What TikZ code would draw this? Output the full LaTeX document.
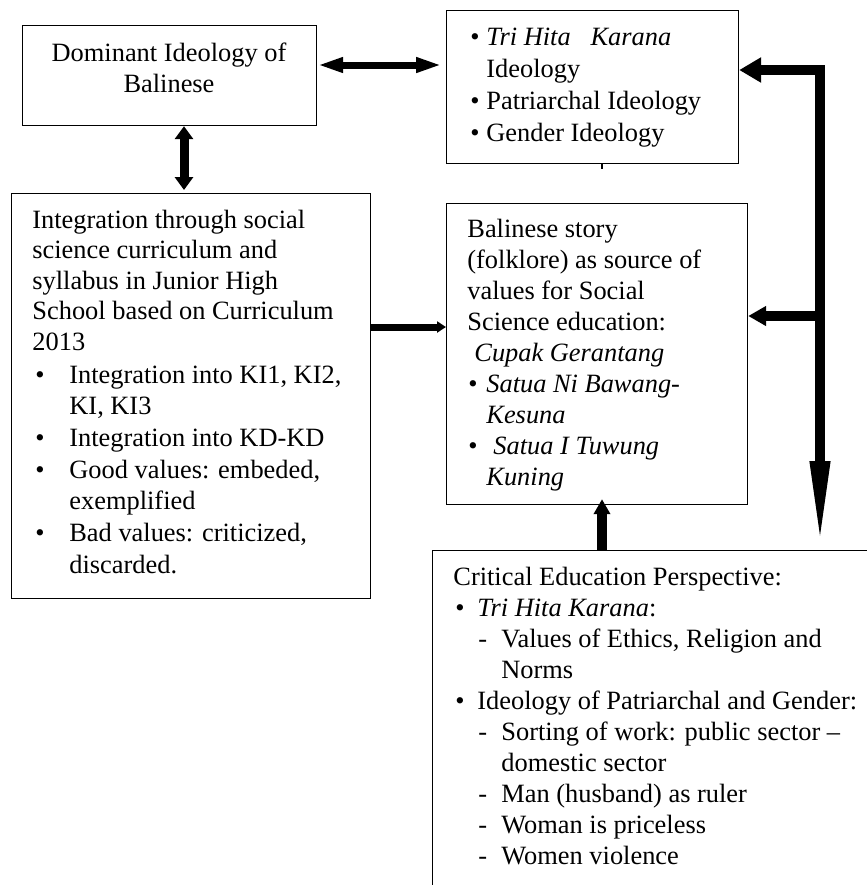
\documentclass[tikz,border=0pt]{standalone}
\usepackage{fontspec}
\setmainfont{Liberation Serif}
\usetikzlibrary{arrows.meta}

% hanging label of fixed width (bullet or dash) before an item text
\newcommand\lbl[2]{\makebox[#1][l]{#2}}

\begin{document}
\begin{tikzpicture}[x=0.5pt,y=-0.5pt,
  box/.style={draw,line width=0.6pt,inner sep=0,anchor=north west},
  txt/.style={inner sep=0,anchor=base west},
  link/.style={line width=#1,line join=miter},
]
\useasboundingbox (0,0) rectangle (867,885);
\clip (0,0) rectangle (867,885);

% boxes
\node[box,minimum width=147pt,minimum height=50pt]   (b1) at (22,25)   {};
\node[box,minimum width=146pt,minimum height=76.5pt] (b2) at (446,10)  {};
\node[box,minimum width=179.5pt,minimum height=202.5pt] (b3) at (11,193) {};
\node[box,minimum width=150.5pt,minimum height=150.5pt] (b4) at (446,203) {};
\node[box,minimum width=230pt,minimum height=180pt]  (b5) at (432,550) {};

% texts
\node[inner sep=0,anchor=base,font=\fontsize{13.2}{15.5}\selectfont] (t1) at (169,61)
  {\begin{tabular}[t]{@{}c@{}}Dominant Ideology of\\Balinese\end{tabular}};

\node[txt,font=\fontsize{13.2}{16}\selectfont] (t2) at (470,45)
  {\begin{tabular}[t]{@{}l@{}}
   \lbl{8pt}{\textbullet}\textit{Tri Hita\ \ \ Karana}\\
   \hspace*{8pt}Ideology\\
   \lbl{8pt}{\textbullet}Patriarchal Ideology\\
   \lbl{8pt}{\textbullet}Gender Ideology
   \end{tabular}};

\node[txt,font=\fontsize{13.2}{15.25}\selectfont] (t3a) at (32,228)
  {\begin{tabular}[t]{@{}l@{}}
   Integration through social\\
   science curriculum and\\
   syllabus in Junior High\\
   School based on Curriculum\\
   2013
   \end{tabular}};

\node[txt,font=\fontsize{13.2}{15.85}\selectfont] (t3b) at (35,383)
  {\begin{tabular}[t]{@{}l@{}}
   \lbl{17pt}{\textbullet}Integration into KI1, KI2,\\
   \hspace*{17pt}KI, KI3\\
   \lbl{17pt}{\textbullet}Integration into KD-KD\\
   \lbl{17pt}{\textbullet}Good values: embeded,\\
   \hspace*{17pt}exemplified\\
   \lbl{17pt}{\textbullet}Bad values: criticized,\\
   \hspace*{17pt}discarded.
   \end{tabular}};

\node[txt,font=\fontsize{13.2}{15.5}\selectfont] (t4) at (467,237)
  {\begin{tabular}[t]{@{}l@{}}
   Balinese story\\
   (folklore) as source of\\
   values for Social\\
   Science education:\\
   \hspace*{3.5pt}\textit{Cupak Gerantang}\\
   \hspace*{0.5pt}\lbl{9pt}{\textbullet}\textit{Satua Ni Bawang-}\\
   \hspace*{9.5pt}\textit{Kesuna}\\
   \hspace*{0.5pt}\lbl{12.5pt}{\textbullet}\textit{Satua I Tuwung}\\
   \hspace*{9.5pt}\textit{Kuning}
   \end{tabular}};

\node[txt,font=\fontsize{13.2}{15.5}\selectfont] (t5) at (453,585)
  {\begin{tabular}[t]{@{}l@{}}
   Critical Education Perspective:\\
   \hspace*{1pt}\lbl{11pt}{\textbullet}\textit{Tri Hita Karana}:\\
   \hspace*{12.5pt}\lbl{11.5pt}{-}Values of Ethics, Religion and\\
   \hspace*{24pt}Norms\\
   \hspace*{1pt}\lbl{11pt}{\textbullet}Ideology of Patriarchal and Gender:\\
   \hspace*{12.5pt}\lbl{11.5pt}{-}Sorting of work: public sector --\\
   \hspace*{24pt}domestic sector\\
   \hspace*{12.5pt}\lbl{11.5pt}{-}Man (husband) as ruler\\
   \hspace*{12.5pt}\lbl{11.5pt}{-}Woman is priceless\\
   \hspace*{12.5pt}\lbl{11.5pt}{-}Women violence
   \end{tabular}};

% helper coordinates for connector rows and columns
\coordinate (ytop) at (0,65);
\coordinate (xv)   at (184,0);
\coordinate (ymid) at (0,327);
\coordinate (xb)   at (602,0);
\coordinate (ctr)  at (820,70);
\coordinate (jn)   at (820,316);

% connectors
\draw[link=3.5pt,{Triangle[length=13pt,width=7pt]}-{Triangle[length=13pt,width=7pt]}]
  (b1.east |- ytop) -- ([xshift=-2pt]b2.west |- ytop);
\draw[link=4.5pt,{Triangle[length=6.5pt,width=9pt]}-{Triangle[length=6.5pt,width=9pt]}]
  (b1.south -| xv) -- ([yshift=1.5pt]b3.north -| xv);
\draw[link=3.5pt,-{Triangle[length=4.5pt,width=5.5pt]}]
  (b3.east |- ymid) -- (b4.west |- ymid);
\draw[link=5pt,{Triangle[length=11pt,width=12pt]}-{Triangle[length=44.5pt,width=9pt]}]
  (b2.east |- ctr) -- (ctr) -- (ctr |- b5.north);
\draw[link=5pt,-{Triangle[length=9pt,width=9.5pt]}]
  (jn) -- (b4.east |- jn);
\draw[link=5pt,-{Triangle[length=7.5pt,width=8pt]}]
  (b5.north -| xb) -- ([yshift=3pt]b4.south -| xb);
\draw[line width=0.6pt] (b2.south -| xb) -- ++(0,5);
\end{tikzpicture}
\end{document}
